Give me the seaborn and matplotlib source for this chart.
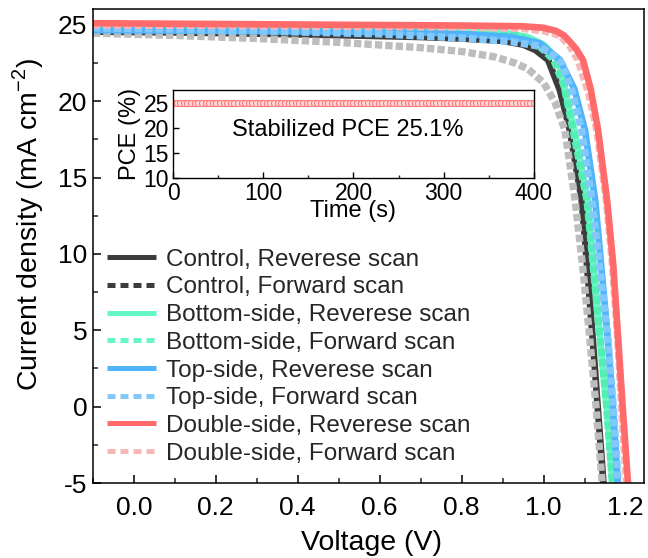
import numpy as np
import pandas as pd
import matplotlib
matplotlib.use("Agg")
import matplotlib.pyplot as plt
from matplotlib.lines import Line2D
from matplotlib.ticker import MultipleLocator
import seaborn as sns

# ---------------- data ----------------
ctrl_rev_V = [-0.1, 0.1, 0.3, 0.5, 0.7, 0.8, 0.9, 0.95, 0.98, 1.011, 1.04, 1.064, 1.093, 1.105, 1.12, 1.132, 1.146]
ctrl_rev_J = [24.55, 24.5, 24.42, 24.32, 24.2, 24.1, 23.95, 23.7, 23.35, 22.7, 20.7, 18.1, 13.5, 9.6, 4.4, 0.0, -5.0]

ctrl_fwd_V = [-0.1, 0.1, 0.3, 0.5, 0.7, 0.8, 0.88, 0.93, 0.962, 1.0, 1.028, 1.052, 1.077, 1.096, 1.113, 1.128, 1.143]
ctrl_fwd_J = [24.45, 24.3, 24.1, 23.85, 23.5, 23.25, 22.9, 22.5, 22.1, 21.2, 19.9, 18.1, 13.5, 9.0, 4.4, 0.0, -5.0]

bot_rev_V = [-0.1, 0.2, 0.5, 0.8, 0.9, 0.96, 1.0, 1.035, 1.075, 1.108, 1.138, 1.154, 1.168]
bot_rev_J = [24.85, 24.8, 24.75, 24.65, 24.5, 24.2, 23.7, 22.7, 18.1, 13.5, 4.4, 0.0, -5.0]

bot_fwd_V = [-0.1, 0.2, 0.5, 0.8, 0.9, 0.95, 0.99, 1.025, 1.05, 1.072, 1.106, 1.138, 1.154, 1.168]
bot_fwd_J = [24.9, 24.85, 24.8, 24.7, 24.5, 24.15, 23.6, 22.7, 21.0, 18.1, 13.5, 4.4, 0.0, -5.0]

top_rev_V = [-0.1, 0.2, 0.5, 0.7, 0.8, 0.92, 0.99, 1.04, 1.075, 1.101, 1.126, 1.157, 1.169, 1.181]
top_rev_J = [24.65, 24.6, 24.55, 24.5, 24.4, 24.2, 23.8, 22.7, 20.8, 18.1, 13.5, 4.4, 0.0, -5.0]

top_fwd_V = [-0.1, 0.1, 0.36, 0.6, 0.82, 0.92, 0.99, 1.028, 1.044, 1.07, 1.093, 1.118, 1.157, 1.17, 1.182]
top_fwd_J = [24.8, 24.7, 24.55, 24.4, 24.1, 23.9, 23.6, 22.9, 22.5, 20.6, 18.1, 13.5, 4.4, 0.0, -5.0]

dbl_rev_V = [-0.1, 0.2, 0.5, 0.8, 0.95, 1.0, 1.03, 1.05, 1.064, 1.08, 1.096, 1.115, 1.133, 1.155, 1.17, 1.182, 1.193, 1.206]
dbl_rev_J = [25.1, 25.05, 25.0, 24.95, 24.9, 24.8, 24.6, 24.3, 23.9, 23.4, 22.7, 20.8, 18.1, 13.5, 9.3, 4.4, 0.0, -5.0]

dbl_fwd_V = [-0.1, 0.2, 0.5, 0.8, 0.95, 1.0, 1.04, 1.064, 1.084, 1.11, 1.13, 1.153, 1.168, 1.181, 1.19, 1.202]
dbl_fwd_J = [25.0, 24.95, 24.9, 24.85, 24.75, 24.6, 24.3, 23.6, 22.7, 20.5, 18.1, 13.5, 9.3, 4.4, 0.0, -5.0]

labels = ["Control, Reverese scan", "Control, Forward scan",
          "Bottom-side, Reverese scan", "Bottom-side, Forward scan",
          "Top-side, Reverese scan", "Top-side, Forward scan",
          "Double-side, Reverese scan", "Double-side, Forward scan"]

# inset: stabilized PCE over 400 s (sampled every 4 s)
time_s = np.arange(0, 401, 4)
pce = [25.1, 25.1, 25.1, 25.1, 25.1, 25.1, 25.1, 25.1, 25.1, 25.1,
       25.1, 25.1, 25.1, 25.1, 25.1, 25.1, 25.1, 25.1, 25.1, 25.1,
       25.1, 25.1, 25.1, 25.1, 25.1, 25.1, 25.1, 25.1, 25.1, 25.1,
       25.1, 25.1, 25.1, 25.1, 25.1, 25.1, 25.1, 25.1, 25.1, 25.1,
       25.1, 25.1, 25.1, 25.1, 25.1, 25.1, 25.1, 25.1, 25.1, 25.1,
       25.1, 25.1, 25.1, 25.1, 25.1, 25.1, 25.1, 25.1, 25.1, 25.1,
       25.1, 25.1, 25.1, 25.1, 25.1, 25.1, 25.1, 25.1, 25.1, 25.1,
       25.1, 25.1, 25.1, 25.1, 25.1, 25.1, 25.1, 25.1, 25.1, 25.1,
       25.1, 25.1, 25.1, 25.1, 25.1, 25.1, 25.1, 25.1, 25.1, 25.1,
       25.1, 25.1, 25.1, 25.1, 25.1, 25.1, 25.1, 25.1, 25.1, 25.1, 25.1]
inset_text = "Stabilized PCE 25.1%"

# ---------------- styling ----------------
sns.set_theme(style="ticks")
plt.rcParams['font.family'] = ['Liberation Sans', 'DejaVu Sans']
plt.rcParams['mathtext.fontset'] = 'custom'
plt.rcParams['mathtext.rm'] = 'Liberation Sans'
plt.rcParams['axes.unicode_minus'] = False

fig = plt.figure(figsize=(6.48, 5.58), dpi=100)
ax = fig.add_axes([0.1433, 0.1344, 0.8505, 0.8486])

series = [
    (ctrl_rev_V, ctrl_rev_J, "#3c3c3c", "solid"),
    (ctrl_fwd_V, ctrl_fwd_J, "#bdbdbd", "dot"),
    (bot_rev_V, bot_rev_J, "#6af5c6", "solid"),
    (bot_fwd_V, bot_fwd_J, "#52eeb2", "dot"),
    (top_rev_V, top_rev_J, "#4fb4fb", "solid"),
    (top_fwd_V, top_fwd_J, "#82c8fb", "dot"),
    (dbl_fwd_V, dbl_fwd_J, "#f7b7b7", "dot"),
    (dbl_rev_V, dbl_rev_J, "#ff6b6b", "solid"),
]
for V, J, col, st in series:
    df = pd.DataFrame({"V": V, "J": J})
    if st == "solid":
        sns.lineplot(data=df, x="V", y="J", ax=ax, color=col, lw=4.8,
                     sort=False, estimator=None, solid_capstyle="butt")
    else:
        sns.lineplot(data=df, x="V", y="J", ax=ax, color=col, lw=5.3,
                     sort=False, estimator=None, linestyle=(0, (1, 0.42)),
                     dash_capstyle="butt")

ax.set_xlim(-0.1, 1.245)
ax.set_ylim(-5, 26)
ax.xaxis.set_minor_locator(MultipleLocator(0.1))
ax.yaxis.set_major_locator(MultipleLocator(5))
ax.yaxis.set_minor_locator(MultipleLocator(2.5))
ax.set_xticks(np.round(np.arange(0.0, 1.21, 0.2), 1))
ax.set_xticklabels(["0.0", "0.2", "0.4", "0.6", "0.8", "1.0", "1.2"])
ax.tick_params(axis="both", which="major", direction="in", length=6,
               width=1.1, labelsize=19, color="black", labelcolor="black")
ax.tick_params(axis="x", which="major", pad=9)
ax.tick_params(axis="y", which="major", pad=4)
ax.tick_params(axis="both", which="minor", direction="in", length=3.5, width=1.1)
for s in ax.spines.values():
    s.set_visible(True)
    s.set_linewidth(1.1)
    s.set_color("black")
ax.set_xlabel("Voltage (V)", fontsize=20.5, color="black")
ax.set_ylabel("Current density (mA cm$^{-2}$)", fontsize=20.5, color="black")
ax.xaxis.set_label_coords(0.506, -0.1)
ax.yaxis.set_label_coords(-0.085, 0.545)

leg_cols = ["#3c3c3c", "#3c3c3c", "#66f7c8", "#66f7c8",
            "#4fb4fb", "#82c8fb", "#ff6b6b", "#f7b7b7"]
handles = []
for i, (lab, c) in enumerate(zip(labels, leg_cols)):
    ls = "-" if i % 2 == 0 else (0, (1.6, 1.0))
    handles.append(Line2D([0], [0], color=c, lw=3.6, linestyle=ls, label=lab,
                          solid_capstyle="butt", dash_capstyle="butt"))
ax.legend(handles=handles, loc="upper left", bbox_to_anchor=(0.026, 0.495),
          frameon=False, fontsize=17.5, handlelength=2.0, handletextpad=0.42,
          labelspacing=0.235, borderaxespad=0, borderpad=0)

# ---------------- inset ----------------
axi = fig.add_axes([0.267, 0.681, 0.557, 0.1577])
dfi = pd.DataFrame({"t": time_s, "pce": pce})
sns.scatterplot(data=dfi, x="t", y="pce", ax=axi, marker="o", s=20,
                facecolor="#ffd6d6", edgecolor="#ff7070", linewidth=0.7)
axi.set_xlim(0, 400)
axi.set_ylim(10, 27.6)
axi.xaxis.set_major_locator(MultipleLocator(100))
axi.xaxis.set_minor_locator(MultipleLocator(50))
axi.yaxis.set_major_locator(MultipleLocator(5))
axi.tick_params(axis="both", which="major", direction="in", length=4,
                width=1.0, labelsize=16.5, pad=3, color="black", labelcolor="black")
axi.tick_params(axis="both", which="minor", direction="in", length=2.5, width=1.0)
for s in axi.spines.values():
    s.set_visible(True)
    s.set_linewidth(1.0)
    s.set_color("black")
axi.set_xlabel("Time (s)", fontsize=17, labelpad=-3.5, color="black")
axi.set_ylabel("PCE (%)", fontsize=17, labelpad=2, color="black")
axi.text(194, 19.6, inset_text, fontsize=17, ha="center", va="center", color="black")

fig.savefig("out.png", dpi=100)
